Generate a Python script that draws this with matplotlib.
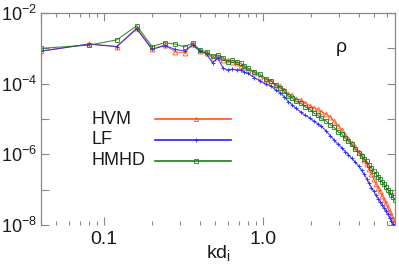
import numpy as np
import matplotlib
matplotlib.use('Agg')
import matplotlib.pyplot as plt
from matplotlib.ticker import LogLocator, FuncFormatter, NullLocator

plt.rcParams['font.family'] = ['Liberation Sans', 'DejaVu Sans']
plt.rcParams['mathtext.default'] = 'regular'

# mode numbers, k = n * dk
dk = 0.04
modes = list(range(1, 21)) + [22, 24, 26, 28, 30, 32, 34, 36, 38, 40, 43, 46, 49, 52, 55,
                              58, 62, 66, 70, 74, 78, 82, 86, 90, 95, 100, 104, 108, 112,
                              116, 120, 124, 128, 132, 136, 140, 144, 148, 152, 156, 160,
                              164, 168]

# log10 of the spectra
hvm_log = [-3.08, -2.88, -2.95, -2.42, -3.02, -2.91, -3.10, -3.12, -2.88, -3.08,
           -3.13, -3.27, -3.25, -3.33, -3.33, -3.40, -3.42, -3.51, -3.53, -3.60,
           -3.69, -3.80, -3.89, -3.92, -4.04, -4.07, -4.17, -4.29, -4.33, -4.42,
           -4.46, -4.55, -4.62, -4.68, -4.73, -4.79, -4.86, -4.95, -5.07, -5.19,
           -5.31, -5.44, -5.57, -5.68, -5.80, -5.92, -6.03, -6.15, -6.28, -6.42,
           -6.56, -6.70, -6.83, -6.95, -7.05, -7.17, -7.28, -7.39, -7.51, -7.62,
           -7.72, -7.83, -7.92]
lf_log = [-3.08, -2.88, -2.95, -2.45, -3.03, -2.92, -3.03, -3.07, -2.91, -3.08,
          -3.16, -3.41, -3.27, -3.57, -3.61, -3.59, -3.61, -3.61, -3.67, -3.71,
          -3.83, -3.93, -4.02, -4.06, -4.19, -4.25, -4.38, -4.51, -4.59, -4.69,
          -4.80, -4.90, -4.96, -5.06, -5.13, -5.21, -5.33, -5.47, -5.60, -5.72,
          -5.81, -5.92, -6.01, -6.11, -6.22, -6.34, -6.45, -6.56, -6.69, -6.82,
          -6.95, -7.04, -7.16, -7.25, -7.34, -7.43, -7.52, -7.61, -7.70, -7.79,
          -7.88, -7.98, -8.07]
hmhd_log = [-3.00, -2.91, -2.76, -2.36, -2.95, -2.84, -2.88, -2.96, -2.85, -3.05,
            -3.10, -3.22, -3.19, -3.27, -3.38, -3.33, -3.39, -3.42, -3.50, -3.56,
            -3.66, -3.74, -3.86, -3.92, -4.05, -4.11, -4.22, -4.35, -4.40, -4.49,
            -4.55, -4.66, -4.72, -4.83, -4.89, -4.98, -5.05, -5.16, -5.24, -5.36,
            -5.43, -5.54, -5.61, -5.72, -5.86, -5.95, -6.04, -6.13, -6.20, -6.31,
            -6.38, -6.48, -6.55, -6.64, -6.70, -6.79, -6.85, -6.93, -7.00, -7.07,
            -7.16, -7.22, -7.29]

labels = ['HVM', 'LF', 'HMHD']
colors = ['#ff5020', '#2020ff', '#1c7a1c']
markers = ['^', '+', 's']

k = dk * np.array(modes)
series = [10 ** np.array(hvm_log), 10 ** np.array(lf_log), 10 ** np.array(hmhd_log)]

fig = plt.figure(figsize=(3.99, 2.68), dpi=100)
ax = fig.add_axes([41 / 399, 1 - 225 / 268, 354 / 399, 212 / 268])

for y, c, m in zip(series, colors, markers):
    ax.plot(k, y, color=c, lw=0.8, marker=m, ms=3.5, mew=0.7, mfc='none', alpha=0.85)

ax.set_xscale('log')
ax.set_yscale('log')
ax.set_xlim(0.04, 6.75)
ax.set_ylim(1e-8, 1e-2)

ax.xaxis.set_major_formatter(FuncFormatter(lambda v, p: f'{v:.1f}'))
ax.yaxis.set_major_locator(LogLocator(base=10, numticks=20))
ax.yaxis.set_minor_locator(NullLocator())


# only every second decade gets a label
def ylab(v, p):
    e = int(round(np.log10(v)))
    if e % 2 == 0:
        return r'$10^{%d}$' % e
    return ''


ax.yaxis.set_major_formatter(FuncFormatter(ylab))
ax.tick_params(which='both', direction='in', top=True, right=True,
               colors='#888888', labelcolor='#1a1a1a', labelsize=14, width=0.8)
ax.tick_params(which='major', length=6)
ax.tick_params(which='minor', length=3)
ax.tick_params(axis='y', pad=3, labelsize=13)
ax.tick_params(axis='x', pad=4)
for s in ax.spines.values():
    s.set_color('#888888')
    s.set_linewidth(0.9)
ax.spines['bottom'].set_visible(False)

ax.set_xlabel(r'kd$_{i}$', fontsize=14, color='#1a1a1a', labelpad=-3)
ax.text(0.847, 0.835, 'ρ', transform=ax.transAxes, fontsize=14,
        ha='center', va='center', color='#1a1a1a')

# legend in gnuplot style: text left, sample right
for i, (lab, c, m) in enumerate(zip(labels, colors, markers)):
    yy = 0.5 - i * 0.099
    ax.text(0.144, yy, lab, transform=ax.transAxes, fontsize=13,
            ha='left', va='center', color='#1a1a1a')
    ax.plot([0.322, 0.537], [yy, yy], color=c, lw=1.2, transform=ax.transAxes)
    ax.plot([0.438], [yy], color=c, marker=m, ms=3, mew=0.6, mfc='none',
            transform=ax.transAxes)

fig.savefig('out.png', dpi=100)
